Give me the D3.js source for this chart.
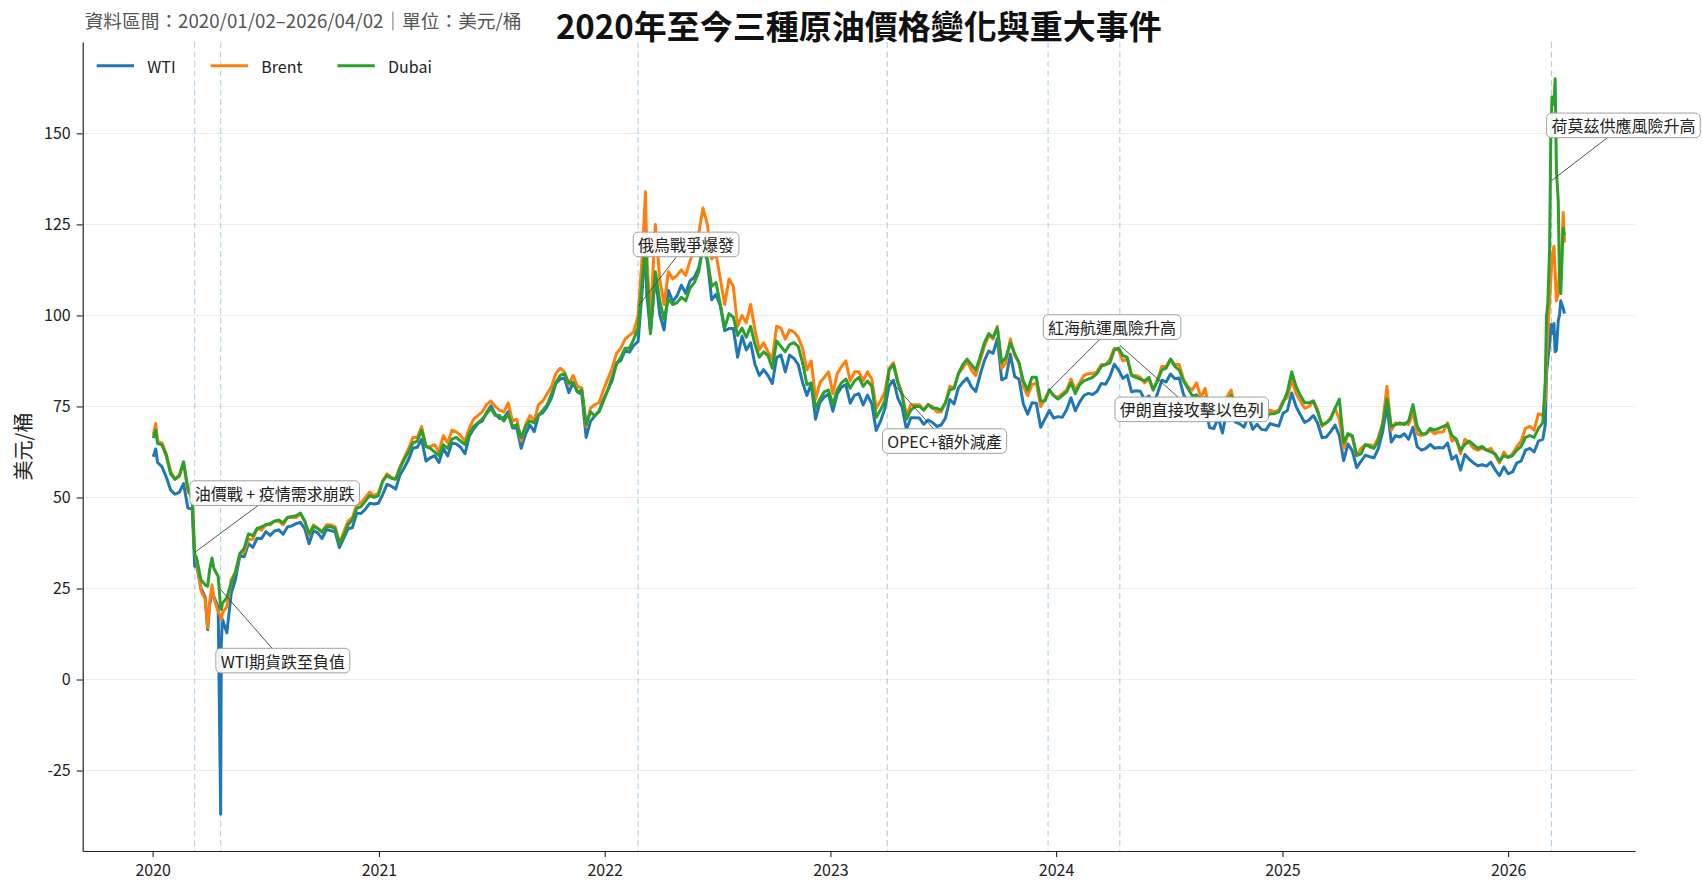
<!DOCTYPE html>
<html>
<head>
<meta charset="utf-8">
<script src="https://cdn.jsdelivr.net/npm/d3@7"></script>
<style>
  body { margin: 0; background: #fff; }
  svg { display: block; font-family: "Noto Sans CJK TC", "Noto Sans", sans-serif; }
</style>
</head>
<body>
<div id="chart"></div>
<script>
// Data (weekly spot prices, USD/bbl)
const dates = [
  "2020-01-02","2020-01-06","2020-01-09","2020-01-16","2020-01-23","2020-01-30",
  "2020-02-06","2020-02-13","2020-02-20","2020-02-27",
  "2020-03-05","2020-03-09","2020-03-12","2020-03-19","2020-03-26","2020-03-30",
  "2020-04-02","2020-04-06","2020-04-09","2020-04-16","2020-04-20","2020-04-21","2020-04-23","2020-04-30",
  "2020-05-07","2020-05-14","2020-05-21","2020-05-28",
  "2020-06-04","2020-06-11","2020-06-18","2020-06-25",
  "2020-07-02","2020-07-09","2020-07-16","2020-07-23","2020-07-30",
  "2020-08-06","2020-08-13","2020-08-20","2020-08-27",
  "2020-09-03","2020-09-10","2020-09-17","2020-09-24",
  "2020-10-01","2020-10-08","2020-10-15","2020-10-22","2020-10-29",
  "2020-11-05","2020-11-12","2020-11-19","2020-11-26",
  "2020-12-03","2020-12-10","2020-12-17","2020-12-24","2020-12-31",
  "2021-01-07","2021-01-14","2021-01-21","2021-01-28",
  "2021-02-04","2021-02-11","2021-02-18","2021-02-25",
  "2021-03-04","2021-03-11","2021-03-18","2021-03-25",
  "2021-04-01","2021-04-08","2021-04-15","2021-04-22","2021-04-29",
  "2021-05-06","2021-05-13","2021-05-20","2021-05-27",
  "2021-06-03","2021-06-10","2021-06-17","2021-06-24",
  "2021-07-01","2021-07-08","2021-07-15","2021-07-22","2021-07-29",
  "2021-08-05","2021-08-12","2021-08-19","2021-08-26",
  "2021-09-02","2021-09-09","2021-09-16","2021-09-23","2021-09-30",
  "2021-10-07","2021-10-14","2021-10-21","2021-10-28",
  "2021-11-04","2021-11-11","2021-11-18","2021-11-25",
  "2021-12-02","2021-12-09","2021-12-16","2021-12-23","2021-12-30",
  "2022-01-06","2022-01-13","2022-01-20","2022-01-27",
  "2022-02-03","2022-02-10","2022-02-17","2022-02-24",
  "2022-03-03","2022-03-08","2022-03-10","2022-03-16","2022-03-24","2022-03-31",
  "2022-04-07","2022-04-14","2022-04-21","2022-04-28",
  "2022-05-05","2022-05-12","2022-05-19","2022-05-26",
  "2022-06-02","2022-06-09","2022-06-16","2022-06-23","2022-06-30",
  "2022-07-07","2022-07-14","2022-07-21","2022-07-28",
  "2022-08-04","2022-08-11","2022-08-18","2022-08-25",
  "2022-09-01","2022-09-08","2022-09-15","2022-09-22","2022-09-29",
  "2022-10-06","2022-10-13","2022-10-20","2022-10-27",
  "2022-11-03","2022-11-10","2022-11-17","2022-11-24",
  "2022-12-01","2022-12-08","2022-12-15","2022-12-22","2022-12-29",
  "2023-01-05","2023-01-12","2023-01-19","2023-01-26",
  "2023-02-02","2023-02-09","2023-02-16","2023-02-23",
  "2023-03-02","2023-03-09","2023-03-16","2023-03-23","2023-03-30",
  "2023-04-06","2023-04-13","2023-04-20","2023-04-27",
  "2023-05-04","2023-05-11","2023-05-18","2023-05-25",
  "2023-06-01","2023-06-08","2023-06-15","2023-06-22","2023-06-29",
  "2023-07-06","2023-07-13","2023-07-20","2023-07-27",
  "2023-08-03","2023-08-10","2023-08-17","2023-08-24","2023-08-31",
  "2023-09-07","2023-09-14","2023-09-21","2023-09-28",
  "2023-10-05","2023-10-12","2023-10-19","2023-10-26",
  "2023-11-02","2023-11-09","2023-11-16","2023-11-23","2023-11-30",
  "2023-12-07","2023-12-14","2023-12-21","2023-12-28",
  "2024-01-04","2024-01-11","2024-01-18","2024-01-25",
  "2024-02-01","2024-02-08","2024-02-15","2024-02-22","2024-02-29",
  "2024-03-07","2024-03-14","2024-03-21","2024-03-28",
  "2024-04-04","2024-04-11","2024-04-18","2024-04-25",
  "2024-05-02","2024-05-09","2024-05-16","2024-05-23","2024-05-30",
  "2024-06-06","2024-06-13","2024-06-20","2024-06-27",
  "2024-07-04","2024-07-11","2024-07-18","2024-07-25",
  "2024-08-01","2024-08-08","2024-08-15","2024-08-22","2024-08-29",
  "2024-09-05","2024-09-12","2024-09-19","2024-09-26",
  "2024-10-03","2024-10-10","2024-10-17","2024-10-24","2024-10-31",
  "2024-11-07","2024-11-14","2024-11-21","2024-11-28",
  "2024-12-05","2024-12-12","2024-12-19","2024-12-26",
  "2025-01-02","2025-01-09","2025-01-16","2025-01-23","2025-01-30",
  "2025-02-06","2025-02-13","2025-02-20","2025-02-27",
  "2025-03-06","2025-03-13","2025-03-20","2025-03-27",
  "2025-04-03","2025-04-10","2025-04-17","2025-04-24",
  "2025-05-01","2025-05-08","2025-05-15","2025-05-22","2025-05-29",
  "2025-06-05","2025-06-12","2025-06-19","2025-06-26",
  "2025-07-03","2025-07-10","2025-07-17","2025-07-24","2025-07-31",
  "2025-08-07","2025-08-14","2025-08-21","2025-08-28",
  "2025-09-04","2025-09-11","2025-09-18","2025-09-25",
  "2025-10-02","2025-10-09","2025-10-16","2025-10-23","2025-10-30",
  "2025-11-06","2025-11-13","2025-11-20","2025-11-27",
  "2025-12-04","2025-12-11","2025-12-18","2025-12-25",
  "2026-01-01","2026-01-08","2026-01-15","2026-01-22","2026-01-29",
  "2026-02-05","2026-02-12","2026-02-19","2026-02-26",
  "2026-03-02","2026-03-04","2026-03-06","2026-03-09","2026-03-11","2026-03-13","2026-03-16",
  "2026-03-18","2026-03-20","2026-03-23","2026-03-25","2026-03-27","2026-03-31",
  "2026-04-02"
];

const wti = [
  61.2, 63.3, 59.6, 58.5, 55.6, 52.1,
  50.9, 51.4, 53.8, 47.1,
  46.8, 31.1, 31.5, 25.2, 22.6, 13.7,
  20.3, 24.0, 22.8, 19.9, -37.0, 10.0, 16.5, 12.8,
  23.6, 27.6, 33.9, 33.7,
  37.3, 36.3, 38.8, 38.7,
  40.6, 39.6, 40.8, 41.1, 39.9,
  41.9, 42.2, 42.8, 43.2,
  41.4, 37.3, 40.9, 40.3,
  38.7, 41.2, 40.9, 40.6, 36.2,
  38.8, 41.4, 41.7, 45.7,
  45.6, 46.8, 48.4, 48.2, 48.4,
  50.8, 53.6, 53.1, 52.3,
  56.2, 58.2, 60.5, 63.5,
  63.8, 66.0, 60.0, 60.9,
  61.5, 59.6, 63.5, 61.4, 65.0,
  64.7, 63.8, 62.0, 66.8,
  68.8, 70.3, 71.0, 73.3,
  75.2, 72.9, 71.7, 71.9, 73.6,
  69.1, 69.1, 63.5, 67.4,
  69.9, 68.1, 72.6, 73.3, 75.0,
  77.4, 81.3, 82.5, 82.8,
  78.8, 81.6, 79.0, 78.4,
  66.5, 70.9, 72.4, 73.8, 76.9,
  79.5, 82.1, 86.9, 87.6,
  90.3, 89.9, 91.8, 92.8,
  107.7, 119.5, 106.0, 95.5, 111.0, 100.3,
  96.0, 106.9, 103.8, 105.4,
  108.3, 106.1, 109.5, 110.5,
  113.0, 118.5, 115.0, 104.3, 105.8,
  102.7, 95.8, 96.4, 96.4,
  88.5, 94.3, 90.5, 92.5,
  86.6, 83.5, 85.1, 83.5, 81.3,
  88.4, 89.1, 84.5, 89.1,
  88.2, 86.5, 81.6, 78.0,
  81.2, 71.5, 76.1, 77.6, 78.4,
  73.7, 78.4, 80.3, 81.0,
  75.9, 78.1, 78.5, 75.4,
  78.1, 75.7, 68.4, 70.9, 74.4,
  80.7, 82.2, 77.3, 74.8,
  68.6, 71.9, 71.9, 71.8,
  70.1, 71.3, 70.6, 69.5, 69.9,
  71.8, 76.9, 75.7, 80.1,
  81.6, 82.8, 80.4, 79.1, 83.6,
  87.6, 90.2, 89.6, 93.7,
  82.3, 82.9, 89.4, 83.2,
  82.5, 75.7, 72.9, 76.0, 75.9,
  69.3, 71.6, 73.9, 71.8,
  72.2, 72.0, 74.1, 77.4,
  73.8, 76.2, 78.0, 78.6, 78.3,
  79.1, 81.3, 81.1, 83.2,
  86.6, 85.0, 82.7, 83.6,
  79.0, 79.3, 79.2, 76.9, 77.9,
  75.6, 78.6, 82.2, 81.7,
  83.9, 82.6, 82.8, 78.3,
  76.3, 76.2, 78.2, 73.0, 75.9,
  69.2, 68.9, 71.9, 67.7,
  73.7, 75.9, 70.7, 70.2, 69.3,
  72.4, 68.7, 70.1, 68.7,
  68.5, 70.3, 69.9, 69.6,
  73.1, 73.9, 78.7, 75.0, 72.7,
  70.6, 71.3, 72.5, 70.4,
  66.4, 66.6, 68.1, 69.9,
  67.0, 60.1, 64.7, 62.8,
  58.2, 59.9, 61.6, 61.2, 60.9,
  63.4, 68.0, 75.1, 65.2,
  67.0, 66.6, 67.5, 66.0, 69.3,
  63.9, 63.0, 63.5, 64.6,
  63.5, 63.7, 63.6, 65.0,
  60.5, 61.5, 57.5, 61.8, 60.5,
  59.5, 58.7, 59.0, 58.6,
  59.7, 57.6, 56.0, 58.4,
  56.5, 57.0, 59.5, 60.0, 63.0,
  63.5, 62.5, 65.5, 66.0,
  70.0, 84.0, 87.5, 92.0, 97.5, 95.0, 97.8,
  90.0, 90.5, 98.6, 100.0, 104.0, 102.0,
  100.5
];

const brent = [
  67.2, 70.3, 65.4, 65.0, 62.0, 57.3,
  55.0, 56.2, 59.5, 51.5,
  50.5, 34.4, 33.0, 24.5, 22.0, 14.2,
  21.0, 26.0, 22.5, 18.5, 17.5, 16.4, 18.3, 20.0,
  27.4, 29.5, 34.5, 35.0,
  38.5, 38.5, 41.5, 41.0,
  42.5, 42.5, 43.5, 43.5, 42.5,
  44.5, 44.5, 44.5, 45.5,
  43.5, 39.5, 42.5, 41.5,
  40.5, 42.5, 42.5, 42.0, 37.5,
  40.5, 43.5, 44.5, 48.0,
  48.5, 50.0, 51.5, 50.5, 51.2,
  54.5, 56.5, 55.5, 55.0,
  58.5, 61.0, 63.5, 66.5,
  66.5, 69.5, 64.0, 64.0,
  64.5, 62.5, 67.0, 65.0, 68.5,
  68.0, 67.0, 65.5, 69.0,
  71.5, 72.5, 73.5, 75.5,
  76.5, 75.0, 74.0, 73.5, 76.0,
  71.0, 71.5, 65.5, 70.0,
  72.5, 71.0, 75.5, 76.5, 78.5,
  80.5, 84.0, 85.5, 84.5,
  81.0, 83.5, 80.5, 80.0,
  69.5, 74.5, 75.5, 76.0, 79.5,
  82.5, 85.5, 89.5, 91.0,
  93.5, 94.5, 95.5, 100.0,
  117.0, 134.0, 117.0, 98.5, 125.0, 110.0,
  103.0, 112.0, 110.0, 111.0,
  112.5, 111.0, 115.0, 118.0,
  122.5, 129.5, 125.0, 115.5, 117.0,
  110.0, 103.0, 110.0, 108.0,
  97.0, 100.0, 98.0, 103.0,
  96.0, 90.5, 92.5, 90.0, 88.0,
  97.0, 96.5, 93.5, 96.0,
  95.5, 94.0, 91.0, 85.0,
  87.5, 77.0, 81.5, 83.0, 84.5,
  78.5, 84.0, 86.0, 87.5,
  82.0, 84.5, 84.5, 82.0,
  84.5, 82.5, 74.5, 76.5, 79.0,
  85.5, 87.0, 82.0, 78.5,
  72.5, 75.5, 75.5, 75.5,
  74.0, 75.5, 75.0, 73.5, 73.5,
  76.0, 80.5, 80.0, 84.0,
  85.5, 87.5, 85.0, 83.5, 87.5,
  91.5, 94.5, 93.5, 97.0,
  85.5, 87.0, 93.5, 89.0,
  87.0, 80.5, 78.0, 81.0, 81.5,
  75.0, 77.0, 79.5, 78.0,
  77.5, 78.5, 79.5, 82.5,
  79.5, 81.5, 83.5, 84.0, 84.0,
  84.5, 86.5, 86.5, 88.0,
  91.0, 90.5, 87.5, 88.0,
  83.5, 83.5, 83.0, 81.5, 82.5,
  79.5, 82.5, 86.0, 86.0,
  88.0, 86.5, 86.5, 82.5,
  80.5, 79.5, 81.5, 77.5, 80.0,
  73.5, 72.5, 75.5, 71.5,
  77.5, 79.5, 74.5, 75.0, 73.5,
  76.0, 72.5, 74.5, 72.5,
  72.0, 74.0, 73.5, 74.0,
  76.5, 77.5, 82.5, 78.5, 76.5,
  74.5, 75.0, 76.5, 74.0,
  69.5, 70.5, 72.0, 74.5,
  71.5, 63.5, 67.5, 66.5,
  61.5, 63.5, 64.5, 64.5, 64.0,
  66.5, 70.5, 80.5, 68.5,
  70.5, 70.0, 70.5, 70.0, 73.5,
  67.5, 67.0, 67.5, 68.5,
  67.5, 68.0, 68.0, 70.5,
  65.5, 66.0, 62.0, 66.0, 65.0,
  63.5, 63.0, 63.5, 63.0,
  63.5, 61.5, 59.5, 62.5,
  61.0, 62.0, 64.0, 65.5, 69.0,
  69.5, 68.5, 73.0, 72.5,
  77.0, 88.0, 95.0, 104.0, 110.0, 116.0, 119.0,
  112.0, 104.0, 106.0, 113.0, 110.0, 128.3,
  120.0
];

const dubai = [
  66.3, 68.5, 64.8, 64.5, 61.5, 56.5,
  55.0, 55.8, 59.8, 52.5,
  49.6, 34.2, 33.5, 27.4, 26.0, 25.6,
  30.0, 33.4, 30.5, 28.3, 19.5, 19.2, 21.0, 22.5,
  26.4, 29.5, 34.6, 36.0,
  40.0, 39.5, 41.5, 41.9,
  42.5, 42.8, 43.5, 43.8, 43.0,
  44.5, 44.8, 45.0, 45.7,
  43.5, 40.0, 42.0, 41.5,
  40.5, 41.9, 42.0, 41.5, 37.3,
  39.5, 42.5, 43.8, 47.0,
  47.5, 49.0, 50.5, 50.0, 50.5,
  54.5, 56.0, 55.3, 55.0,
  58.0, 60.5, 62.5, 65.0,
  65.5, 68.5, 64.0, 63.5,
  62.5, 61.5, 64.5, 63.5, 66.0,
  66.5, 65.5, 64.5, 67.5,
  69.5, 70.5, 71.5, 73.0,
  74.5, 72.5, 72.5, 71.0, 73.0,
  69.5, 70.0, 66.5, 69.5,
  71.0, 70.5, 72.5, 74.0, 75.5,
  78.5, 81.5, 83.5, 84.0,
  81.5, 81.5, 79.0, 79.5,
  70.0, 73.5, 72.5, 73.5, 76.5,
  79.5, 83.0, 86.5, 88.5,
  91.0, 91.0, 93.5, 96.5,
  110.0, 120.5, 112.0, 95.0, 112.0, 104.0,
  99.0, 104.5, 103.0, 103.5,
  105.0, 104.0, 107.5, 109.0,
  112.0, 119.0, 115.5, 108.0, 109.0,
  103.0, 96.5, 100.5, 99.5,
  94.5, 96.5, 94.0, 97.0,
  92.0, 88.5, 90.0, 89.0, 85.5,
  93.0, 91.5, 90.0, 92.0,
  92.5, 91.5, 87.0, 81.0,
  81.5, 74.5, 77.0, 79.0, 79.5,
  75.5, 79.5, 81.5, 82.5,
  80.0, 82.0, 83.0, 80.5,
  82.0, 80.5, 72.0, 74.0, 76.5,
  85.0, 86.5, 81.5, 78.0,
  71.5, 74.0, 75.0, 75.0,
  74.0, 75.5, 74.5, 74.5, 74.0,
  76.0, 79.5, 80.0, 84.0,
  86.5, 88.0, 86.5, 85.0, 88.5,
  92.5, 95.0, 94.0, 96.5,
  87.0, 88.5, 92.5, 89.5,
  87.0, 82.0, 79.5, 83.0, 83.0,
  76.5, 76.5, 79.5, 78.0,
  77.0, 78.0, 79.0, 81.5,
  78.5, 81.0, 82.0, 82.5, 83.0,
  84.0, 86.0, 86.5, 87.0,
  90.5, 91.0, 89.0, 88.5,
  83.5, 83.0, 82.5, 82.0, 83.0,
  79.5, 82.0, 85.0, 85.5,
  88.0, 86.0, 85.0, 82.0,
  80.0, 78.0, 78.0, 77.0, 77.5,
  73.5, 72.5, 74.5, 72.5,
  76.5, 78.0, 74.5, 75.0, 73.0,
  73.5, 72.0, 73.5, 72.5,
  72.0, 73.0, 73.0, 73.5,
  76.0, 79.0, 84.5, 80.5, 78.0,
  76.0, 76.0, 76.5, 73.5,
  70.0, 70.5, 71.5, 74.5,
  77.0, 65.0, 67.5, 67.0,
  61.5, 62.0, 64.5, 64.0, 63.5,
  65.5, 70.0, 77.0, 69.5,
  70.0, 70.5, 70.0, 71.0, 75.5,
  69.5, 67.5, 67.5, 69.0,
  68.5, 69.0, 69.5, 70.0,
  67.0, 66.0, 63.0, 64.5, 65.5,
  64.5, 63.5, 64.0, 63.0,
  62.5, 62.0, 60.0, 61.5,
  61.0, 61.5, 63.0, 64.0, 66.5,
  67.0, 66.5, 69.0, 70.5,
  82.0, 100.0, 103.0, 118.0, 150.0, 160.0, 158.0,
  165.0, 140.0, 131.5, 110.0, 106.0, 124.0,
  122.0
];

const seriesNames = ["WTI", "Brent", "Dubai"];
const seriesColors = ["#1f77b4", "#ff7f0e", "#2ca02c"];

// Events
const eventDates = ["2020-03-09", "2020-04-20", "2022-02-24", "2023-04-03", "2023-12-19", "2024-04-13", "2026-03-12"];
const eventLabels = ["油價戰 + 疫情需求崩跌", "WTI期貨跌至負值", "俄烏戰爭爆發", "OPEC+額外減產", "紅海航運風險升高", "伊朗直接攻擊以色列", "荷莫茲供應風險升高"];
const eventValues = [34.9, 24.7, 102.5, 83.1, 79.2, 91.8, 137];

// Ticks
const yTicks = [-25, 0, 25, 50, 75, 100, 125, 150];
const xTickYears = ["2020", "2021", "2022", "2023", "2024", "2025", "2026"];

// Layout only: label centre heights in value units
const labelY = [51.2, 5.2, 119.5, 65.5, 96.8, 74.2, 152.2];

// Dimensions
const width = 1703;
const height = 880;
const margin = { top: 42, right: 68, bottom: 29, left: 82.7 };
const parse = d3.timeParse("%Y-%m-%d");

const svg = d3.select("#chart")
    .append("svg")
    .attr("width", width)
    .attr("height", height);

const series = seriesNames.map((name, i) => ({
    name: name,
    color: seriesColors[i],
    values: dates.map((d, j) => ({ date: parse(d), v: [wti, brent, dubai][i][j] }))
}));

// Scales (5% padding like matplotlib)
const [d0, d1] = d3.extent(dates, parse);
const dSpan = d1 - d0;
const x = d3.scaleTime()
    .domain([new Date(+d0 - dSpan * 0.05), new Date(+d1 + dSpan * 0.05)])
    .range([margin.left, width - margin.right]);

const allValues = wti.concat(brent, dubai);
const [v0, v1] = d3.extent(allValues);
const vSpan = v1 - v0;
const y = d3.scaleLinear()
    .domain([v0 - vSpan * 0.05, v1 + vSpan * 0.05])
    .range([height - margin.bottom, margin.top]);

// Grid
svg.append("g")
    .selectAll("line")
    .data(yTicks)
    .enter()
    .append("line")
    .attr("x1", margin.left)
    .attr("x2", width - margin.right)
    .attr("y1", d => y(d))
    .attr("y2", d => y(d))
    .attr("stroke", "#ebebeb")
    .attr("stroke-width", 1);

// Event lines
svg.append("g")
    .selectAll("line")
    .data(eventDates)
    .enter()
    .append("line")
    .attr("x1", d => x(parse(d)))
    .attr("x2", d => x(parse(d)))
    .attr("y1", margin.top)
    .attr("y2", height - margin.bottom)
    .attr("stroke", "#1f77b4")
    .attr("stroke-opacity", 0.35)
    .attr("stroke-width", 1.1)
    .attr("stroke-dasharray", "6,3.5");

// Lines
const line = d3.line()
    .x(d => x(d.date))
    .y(d => y(d.v));

svg.append("g")
    .selectAll("path")
    .data(series)
    .enter()
    .append("path")
    .attr("d", d => line(d.values))
    .attr("fill", "none")
    .attr("stroke", d => d.color)
    .attr("stroke-width", 3)
    .attr("stroke-linejoin", "round");

// Axes
const yAxis = svg.append("g")
    .attr("transform", `translate(${margin.left},0)`)
    .call(d3.axisLeft(y)
        .tickValues(yTicks)
        .tickFormat(d => (d < 0 ? "-" + Math.abs(d) : String(d)))
        .tickSize(6).tickPadding(6).tickSizeOuter(0));

const xAxis = svg.append("g")
    .attr("transform", `translate(0,${height - margin.bottom})`)
    .call(d3.axisBottom(x)
        .tickValues(xTickYears.map(yr => new Date(+yr, 0, 1)))
        .tickFormat(d3.timeFormat("%Y"))
        .tickSize(6).tickPadding(8).tickSizeOuter(0));

[yAxis, xAxis].forEach(g => {
    g.select(".domain").attr("stroke", "#222").attr("stroke-width", 1.2);
    g.selectAll(".tick line").attr("stroke", "#222").attr("stroke-width", 1.1);
    g.selectAll(".tick text")
        .attr("fill", "#222")
        .style("font-size", "16px")
        .style("font-family", "'Noto Sans CJK TC', sans-serif");
});

// Annotations
eventDates.forEach((d, i) => {
    const ex = x(parse(d));
    const ay = y(eventValues[i]);
    const ty = y(labelY[i]);
    const g = svg.append("g");
    const conn = g.append("line");
    const box = g.append("rect");
    const t = g.append("text")
        .attr("x", ex)
        .attr("y", ty)
        .attr("dominant-baseline", "central")
        .attr("fill", "#222")
        .style("font-size", "16px")
        .text(eventLabels[i]);
    const w = t.node().getComputedTextLength();
    box.attr("x", ex - 4.8)
        .attr("y", ty - 12.3)
        .attr("width", w + 9.6)
        .attr("height", 24.6)
        .attr("rx", 4.8)
        .attr("fill", "#fff")
        .attr("fill-opacity", 0.92)
        .attr("stroke", "#a0a0a0")
        .attr("stroke-width", 1);
    conn.attr("x1", ex)
        .attr("y1", ay)
        .attr("x2", ex + w / 2)
        .attr("y2", ty)
        .attr("stroke", "#444")
        .attr("stroke-width", 0.9);
});

// Legend
const legend = svg.append("g");
let lx = 96.7;
series.forEach(s => {
    legend.append("line")
        .attr("x1", lx)
        .attr("x2", lx + 37.3)
        .attr("y1", 65.7)
        .attr("y2", 65.7)
        .attr("stroke", s.color)
        .attr("stroke-width", 3);
    const t = legend.append("text")
        .attr("x", lx + 50.6)
        .attr("y", 65.7)
        .attr("dominant-baseline", "central")
        .attr("fill", "#222")
        .style("font-size", "16px")
        .text(s.name);
    lx += 50.6 + t.node().getComputedTextLength() + 35;
});

// Titles
svg.append("text")
    .attr("x", (margin.left + width - margin.right) / 2)
    .attr("y", 38.5)
    .attr("text-anchor", "middle")
    .attr("fill", "#111")
    .style("font-size", "33px")
    .style("font-weight", "bold")
    .text("2020年至今三種原油價格變化與重大事件");

svg.append("text")
    .attr("x", margin.left + 2)
    .attr("y", 28)
    .attr("fill", "#555")
    .style("font-size", "18.7px")
    .text("資料區間：2020/01/02–2026/04/02｜單位：美元/桶");

svg.append("text")
    .attr("transform", `translate(22.7,${(margin.top + height - margin.bottom) / 2}) rotate(-90)`)
    .attr("text-anchor", "middle")
    .attr("dominant-baseline", "central")
    .attr("fill", "#222")
    .style("font-size", "20px")
    .text("美元/桶");
</script>
</body>
</html>
